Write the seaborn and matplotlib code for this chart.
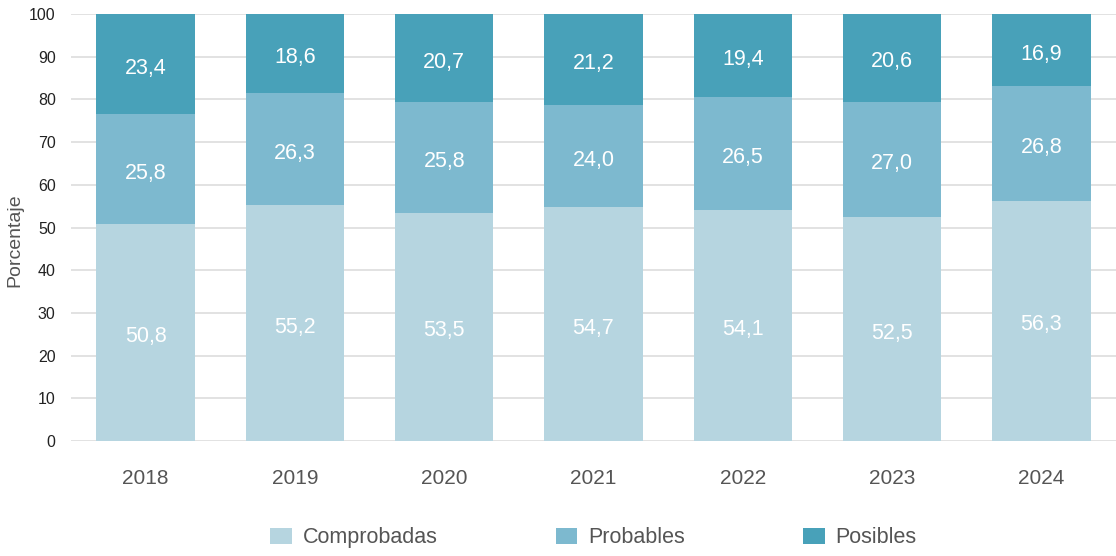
import matplotlib
matplotlib.use("Agg")
import matplotlib.pyplot as plt
import seaborn as sns
import numpy as np
from matplotlib.patches import Patch

years = ["2018", "2019", "2020", "2021", "2022", "2023", "2024"]
comprobadas = [50.8, 55.2, 53.5, 54.7, 54.1, 52.5, 56.3]
probables = [25.8, 26.3, 25.8, 24.0, 26.5, 27.0, 26.8]
posibles = [23.4, 18.6, 20.7, 21.2, 19.4, 20.6, 16.9]
series_names = ["Comprobadas", "Probables", "Posibles"]
colors = ["#b6d5e0", "#7db9cf", "#48a1b9"]

sns.set_style("white")
plt.rcParams["font.family"] = ["Liberation Sans", "DejaVu Sans"]

fig = plt.figure(figsize=(11.16, 5.56), dpi=100)
ax = fig.add_axes([0.0636, 0.2068, 0.9364, 0.768])

bottom = np.zeros(len(years))
for vals, name, col in zip([comprobadas, probables, posibles], series_names, colors):
    sns.barplot(x=years, y=vals, color=col, saturation=1, width=0.66,
                bottom=bottom, ax=ax, zorder=2, linewidth=0, edgecolor="none")
    bottom = bottom + np.array(vals)

# labels sit a little below the segment centre in the original
for cont, vals in zip(ax.containers, [comprobadas, probables, posibles]):
    texts = ax.bar_label(cont, labels=[f"{v:.1f}".replace(".", ",") for v in vals],
                         label_type="center", color="white", fontsize=15.5)
    for t in texts:
        t.xyann = (0, -3)

ax.set_ylim(0, 100)
ax.set_xlim(-0.5, 6.5)
ax.set_yticks(range(0, 101, 10))
ax.yaxis.grid(True, color="#dddddd", linewidth=1.2, zorder=0)
ax.set_axisbelow(True)
for s in ax.spines.values():
    s.set_visible(False)
ax.tick_params(axis="y", length=0, pad=11, labelsize=11.5, labelcolor="#222222")
ax.tick_params(axis="x", length=0, pad=20, labelsize=15, labelcolor="#555555")
ax.set_ylabel("Porcentaje", fontsize=14, color="#555555")
ax.yaxis.set_label_coords(-0.046, 0.47)
ax.set_xlabel("")

handles = [Patch(facecolor=c, edgecolor="none") for c in colors]
ax.legend(handles, series_names, loc="center", bbox_to_anchor=(0.5, -0.227),
          ncol=3, frameon=False, fontsize=15.5, labelcolor="#555555",
          handlelength=1.0, handleheight=0.8, handletextpad=0.5,
          columnspacing=5.5)

fig.savefig("out.png", dpi=100)
